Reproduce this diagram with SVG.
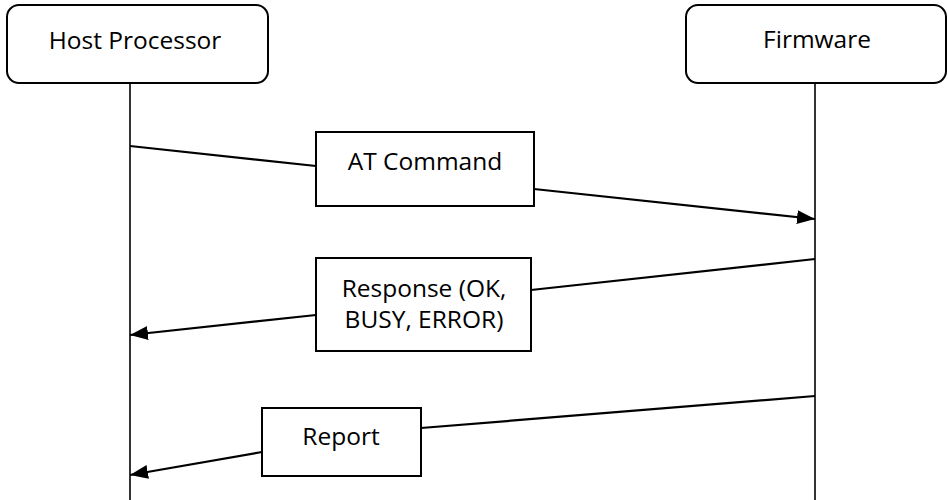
<svg xmlns="http://www.w3.org/2000/svg" width="948" height="500" viewBox="0 0 948 500">
<style>
.actor{fill:#fff;stroke:#000;stroke-width:2}
.msg{fill:#fff;stroke:#000;stroke-width:2}
.life{stroke:#000;stroke-width:1.6;fill:none}
.conn{stroke:#000;stroke-width:2.2;fill:none}
text{font-family:"Open Sans","Noto Sans","Liberation Sans",sans-serif;font-size:24.5px;fill:#000;text-anchor:middle}
</style>
<defs>
<marker id="ah" viewBox="0 0 18 14" refX="18" refY="7" markerWidth="18" markerHeight="14" markerUnits="userSpaceOnUse" orient="auto">
<path d="M0,0 L18,7 L0,14 z" fill="#000"/>
</marker>
</defs>
<g id="lifelines">
<line class="life" x1="130" y1="83" x2="130" y2="500"/>
<line class="life" x1="815" y1="83" x2="815" y2="500"/>
</g>
<g id="host">
<rect class="actor" x="7" y="5" width="261" height="78" rx="12"/>
<text x="135" y="49">Host Processor</text>
</g>
<g id="firmware">
<rect class="actor" x="686" y="5" width="260" height="78" rx="12"/>
<text x="817" y="48">Firmware</text>
</g>
<g id="connectors">
<line class="conn" x1="130" y1="146" x2="316" y2="166"/>
<line class="conn" x1="534" y1="189" x2="815" y2="219" marker-end="url(#ah)"/>
<line class="conn" x1="815" y1="259" x2="531" y2="290"/>
<line class="conn" x1="316" y1="315" x2="130" y2="335" marker-end="url(#ah)"/>
<line class="conn" x1="815" y1="396" x2="421" y2="428"/>
<line class="conn" x1="262" y1="452" x2="130" y2="475" marker-end="url(#ah)"/>
</g>
<g id="at-command">
<rect class="msg" x="316" y="132" width="218" height="74"/>
<text x="425" y="170">AT Command</text>
</g>
<g id="response">
<rect class="msg" x="316" y="258" width="215" height="93"/>
<text x="424" y="297">Response (OK,</text>
<text x="424" y="328">BUSY, ERROR)</text>
</g>
<g id="report">
<rect class="msg" x="262" y="408" width="159" height="68"/>
<text x="341" y="445">Report</text>
</g>
</svg>
